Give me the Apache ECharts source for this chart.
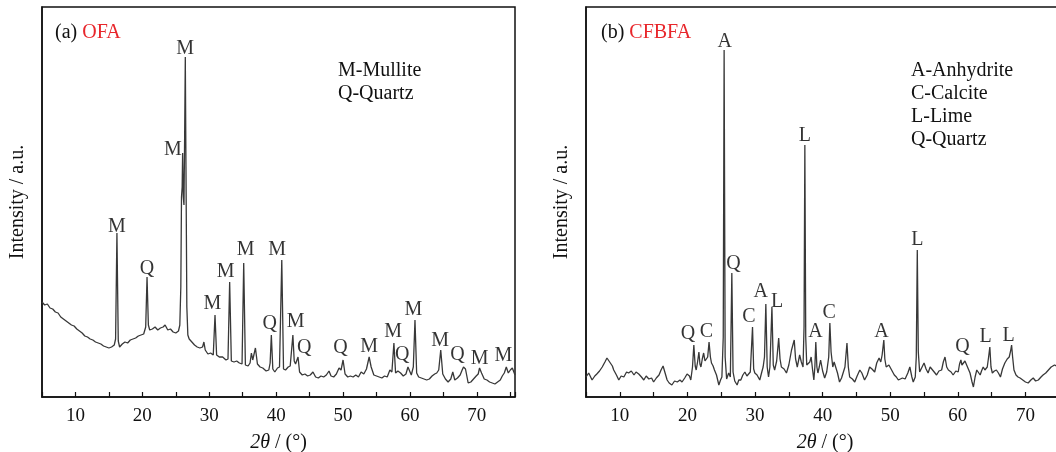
<!DOCTYPE html>
<html>
<head>
<meta charset="utf-8">
<script src="https://cdn.jsdelivr.net/npm/echarts@6/dist/echarts.min.js"></script>
<style>
  html, body { margin: 0; padding: 0; background: #fff; }
  #chart { width: 1056px; height: 452px; }
</style>
</head>
<body>
<div id="chart"></div>
<script>
// (a) OFA pattern, 2theta and intensity (a.u.)
var ofaTheta = [5.0,5.4,5.8,6.2,6.6,7.0,7.4,7.8,8.2,8.6,9.0,9.4,9.8,10.2,10.6,11.0,11.4,11.8,12.2,12.6,13.0,13.4,13.8,14.2,14.6,15.0,15.4,15.8,16.0,16.2,16.4,16.6,17.0,17.4,17.8,18.2,18.6,19.0,19.4,19.8,20.2,20.5,20.7,20.9,21.1,21.5,21.9,22.3,22.7,23.1,23.4,23.8,24.2,24.6,25.0,25.4,25.6,25.75,25.85,25.95,26.02,26.12,26.22,26.32,26.42,26.52,26.65,26.8,27.0,27.4,27.8,28.2,28.6,29.0,29.2,29.4,29.8,30.2,30.6,30.86,31.1,31.5,32.0,32.5,32.8,33.05,33.3,33.7,34.1,34.5,34.9,35.15,35.4,35.8,36.1,36.3,36.5,36.7,36.9,37.2,37.6,38.0,38.5,38.9,39.1,39.28,39.5,39.8,40.2,40.5,40.84,41.1,41.4,41.8,42.1,42.5,42.7,42.9,43.1,43.27,43.5,43.9,44.3,44.7,45.1,45.5,45.9,46.3,46.7,47.1,47.5,47.9,48.2,48.6,49.0,49.4,49.7,50.0,50.3,50.7,51.1,51.5,51.9,52.3,52.7,53.1,53.5,53.9,54.2,54.6,55.0,55.4,55.8,56.2,56.6,57.0,57.3,57.6,57.85,58.2,58.6,59.0,59.4,59.7,59.9,60.2,60.5,60.75,61.0,61.3,61.7,62.1,62.5,62.9,63.3,63.7,64.0,64.3,64.6,64.9,65.3,65.7,66.1,66.4,66.7,67.1,67.5,67.8,68.0,68.3,68.7,69.1,69.5,69.9,70.2,70.4,70.7,71.1,71.5,71.9,72.3,72.7,73.1,73.5,73.8,74.1,74.4,74.7,75.0,75.3,75.7];
var ofaInt = [95,92,93,89,88,85,84,80,78,76,74,72,71,68,66,64,61,60,58,57,55,54,53,51,50,49,50,52,58,164,56,50,53,55,54,57,58,59,61,62,63,70,120,72,67,68,70,67,69,70,72,67,68,65,64,66,72,110,200,210,244,200,192,260,340,230,90,62,58,55,52,50,49,50,55,47,43,44,42,82,42,40,40,37,38,115,36,35,36,34,33,134,32,31,34,44,37,38,49,33,30,29,26,27,34,62,28,25,29,30,137,28,27,30,31,62,36,33,35,40,25,22,23,21,22,25,20,19,21,20,22,26,21,20,23,29,27,37,23,20,21,20,22,20,25,23,28,40,30,22,21,20,19,21,20,27,25,54,24,26,24,21,23,30,32,22,30,77,24,20,19,18,17,18,21,23,24,27,47,23,18,15,18,25,17,19,22,27,30,28,14,15,18,21,23,29,24,18,17,15,14,13,15,17,21,24,30,24,27,29,22];

// (b) CFBFA pattern
var cfbTheta = [5.0,5.4,5.9,6.3,6.6,7.0,7.4,7.8,8.1,8.4,8.6,8.9,9.1,9.5,9.85,10.2,10.6,11.0,11.3,11.7,12.1,12.4,12.8,13.2,13.55,13.9,14.3,14.7,15.0,15.4,15.8,16.1,16.4,16.7,17.0,17.3,17.7,18.1,18.5,18.9,19.2,19.6,19.95,20.3,20.5,20.75,20.95,21.15,21.3,21.5,21.7,21.85,22.0,22.2,22.4,22.6,22.8,23.0,23.2,23.4,23.56,23.8,24.0,24.3,24.65,24.9,25.1,25.3,25.43,25.58,25.8,26.1,26.35,26.57,26.75,27.0,27.35,27.6,27.9,28.2,28.5,28.8,29.0,29.3,29.63,29.8,29.97,30.3,30.7,31.0,31.2,31.4,31.6,31.8,32.0,32.2,32.5,32.7,32.9,33.2,33.5,33.7,33.9,34.3,34.65,35.0,35.4,35.6,35.8,36.0,36.25,36.6,36.85,37.1,37.25,37.37,37.5,37.65,37.85,38.1,38.3,38.5,38.7,38.85,38.99,39.15,39.3,39.5,39.7,40.0,40.3,40.6,40.9,41.07,41.25,41.5,41.7,41.95,42.2,42.5,42.8,43.0,43.3,43.6,43.8,44.0,44.4,44.75,45.1,45.5,45.8,46.2,46.6,46.95,47.3,47.7,48.0,48.35,48.6,48.8,49.05,49.2,49.4,49.8,50.2,50.6,50.9,51.2,51.4,51.8,52.2,52.6,52.9,53.2,53.4,53.7,53.85,54.0,54.15,54.35,54.6,55.0,55.3,55.6,55.9,56.1,56.5,56.85,57.2,57.6,57.85,58.1,58.35,58.6,59.0,59.3,59.7,60.05,60.25,60.45,60.6,60.8,61.05,61.3,61.55,61.8,62.1,62.3,62.55,62.8,63.05,63.3,63.5,63.75,64.0,64.35,64.55,64.73,64.9,65.1,65.4,65.7,66.0,66.3,66.6,66.95,67.3,67.6,67.8,67.95,68.1,68.3,68.6,68.9,69.2,69.6,70.0,70.4,70.8,71.15,71.5,71.9,72.3,72.6,73.0,73.4,73.8,74.3,74.8,75.3,75.7];
var cfbInt = [20,24,17,21,23,26,30,35,39,36,37,31,27,22,17,21,20,25,24,26,22,25,23,20,17,21,18,19,15,19,22,27,31,24,17,14,12,16,15,17,15,19,23,21,17,30,52,31,27,35,45,33,30,38,44,36,34,40,55,40,34,31,27,22,12,17,20,60,347,40,18,24,20,124,25,16,12,17,17,22,25,21,20,25,70,28,24,22,17,25,30,40,93,30,20,30,90,32,27,36,59,38,30,28,24,32,47,52,57,38,30,42,35,30,70,252,60,32,30,35,40,28,17,30,55,30,24,30,37,26,19,25,40,74,45,30,35,37,24,15,19,20,30,54,30,20,18,15,21,27,24,17,22,30,28,25,34,39,35,42,57,38,30,32,27,22,20,17,15,19,18,24,30,20,15,20,40,147,45,25,27,34,28,24,30,30,25,22,26,27,35,40,30,27,25,22,26,25,33,37,32,30,36,35,28,24,15,10,20,27,25,22,26,30,27,30,40,50,30,24,26,27,24,20,28,34,38,40,46,52,40,27,22,20,19,17,15,14,17,19,16,17,20,22,24,27,30,32,30,33,30];

// phase labels: [2theta, height of label foot, letter]
var ofaPeaks = [[16.2,164,'M'],[20.7,122,'Q'],[24.57,241,'M'],[26.4,342,'M'],[30.46,87,'M'],[32.45,119,'M'],[35.45,141,'M'],[40.14,141,'M'],[39.04,67,'Q'],[42.93,69,'M'],[44.18,43,'Q'],[49.62,43,'Q'],[53.9,44,'M'],[57.5,59,'M'],[58.85,36,'Q'],[60.5,81,'M'],[64.5,50,'M'],[67.1,36,'Q'],[70.4,32,'M'],[73.97,35,'M']];
var cfbPeaks = [[20.1,57,'Q'],[22.8,59,'C'],[25.53,349,'A'],[26.8,127,'Q'],[29.1,74,'C'],[30.86,99,'A'],[33.27,89,'L'],[37.37,255,'L'],[38.94,59,'A'],[40.97,78,'C'],[48.7,59,'A'],[54.0,151,'L'],[60.7,44,'Q'],[64.1,54,'L'],[67.5,55,'L']];

var ofaKey = ['M-Mullite', 'Q-Quartz'];
var cfbKey = ['A-Anhydrite', 'C-Calcite', 'L-Lime', 'Q-Quartz'];

var serif = 'Liberation Serif';
var myChart = echarts.init(document.getElementById('chart'));

function zip(xs, ys) {
    var out = [];
    for (var i = 0; i < xs.length; i++) out.push([xs[i], ys[i]]);
    return out;
}

function xAxisFor(idx) {
    return {
        gridIndex: idx, type: 'value', min: 5, max: 75.7, interval: 5,
        name: '{i|2θ} / (°)', nameLocation: 'middle', nameGap: 36,
        nameTextStyle: { fontFamily: serif, fontSize: 20, color: '#111',
            rich: { i: { fontFamily: serif, fontSize: 20, fontStyle: 'italic', color: '#111' } } },
        axisLine: { show: true, lineStyle: { color: '#111', width: 1.5 } },
        axisTick: { show: true, inside: true, length: 5, lineStyle: { color: '#111', width: 1.2 } },
        axisLabel: { fontFamily: serif, fontSize: 19, color: '#111', margin: 10,
            formatter: function (v) { return v % 10 === 0 ? String(v) : ''; } },
        splitLine: { show: false }
    };
}

function yAxisFor(idx) {
    return {
        gridIndex: idx, type: 'value', min: 0, max: 390,
        name: 'Intensity / a.u.', nameLocation: 'middle', nameGap: 14,
        nameTextStyle: { fontFamily: serif, fontSize: 20, color: '#111' },
        axisLine: { show: true, lineStyle: { color: '#111', width: 1.5 } },
        axisTick: { show: false }, axisLabel: { show: false },
        splitLine: { show: false }
    };
}

function curve(idx, xs, ys) {
    return {
        type: 'line', xAxisIndex: idx, yAxisIndex: idx,
        data: zip(xs, ys), showSymbol: false, symbol: 'none',
        lineStyle: { color: '#383838', width: 1.3 }, silent: true, animation: false
    };
}

function tags(idx, list) {
    return {
        type: 'scatter', xAxisIndex: idx, yAxisIndex: idx,
        data: list, symbolSize: 1, itemStyle: { color: 'rgba(0,0,0,0)' },
        silent: true, animation: false,
        label: { show: true, position: 'top', distance: -4,
            fontFamily: serif, fontSize: 20, color: '#000',
            formatter: function (p) { return p.value[2]; } }
    };
}

var plain = { fontFamily: serif, fontSize: 20, fontWeight: 'normal', color: '#111' };
var red = { fontFamily: serif, fontSize: 20, fontWeight: 'normal', color: '#e8262b' };

var option = {
    backgroundColor: '#fff',
    animation: false,
    grid: [
        { left: 42, top: 7, width: 473, height: 390, show: true, borderColor: '#111', borderWidth: 1.5,
          outerBoundsMode: 'none', containLabel: false },
        { left: 586, top: 7, width: 478, height: 390, show: true, borderColor: '#111', borderWidth: 1.5,
          outerBoundsMode: 'none', containLabel: false }
    ],
    title: [
        { text: '{k|(a) }{r|OFA}', left: 50, top: 18, textStyle: { fontWeight: 'normal', rich: { k: plain, r: red } } },
        { text: '{k|(b) }{r|CFBFA}', left: 596, top: 18, textStyle: { fontWeight: 'normal', rich: { k: plain, r: red } } },
        { text: ofaKey.join('\n'), left: 333, top: 54,
          textStyle: { fontFamily: serif, fontSize: 20, fontWeight: 'normal', color: '#111', lineHeight: 23 } },
        { text: cfbKey.join('\n'), left: 906, top: 54,
          textStyle: { fontFamily: serif, fontSize: 20, fontWeight: 'normal', color: '#111', lineHeight: 23 } }
    ],
    xAxis: [xAxisFor(0), xAxisFor(1)],
    yAxis: [yAxisFor(0), yAxisFor(1)],
    series: [
        curve(0, ofaTheta, ofaInt),
        curve(1, cfbTheta, cfbInt),
        tags(0, ofaPeaks),
        tags(1, cfbPeaks)
    ]
};
myChart.setOption(option);
</script>
</body>
</html>
